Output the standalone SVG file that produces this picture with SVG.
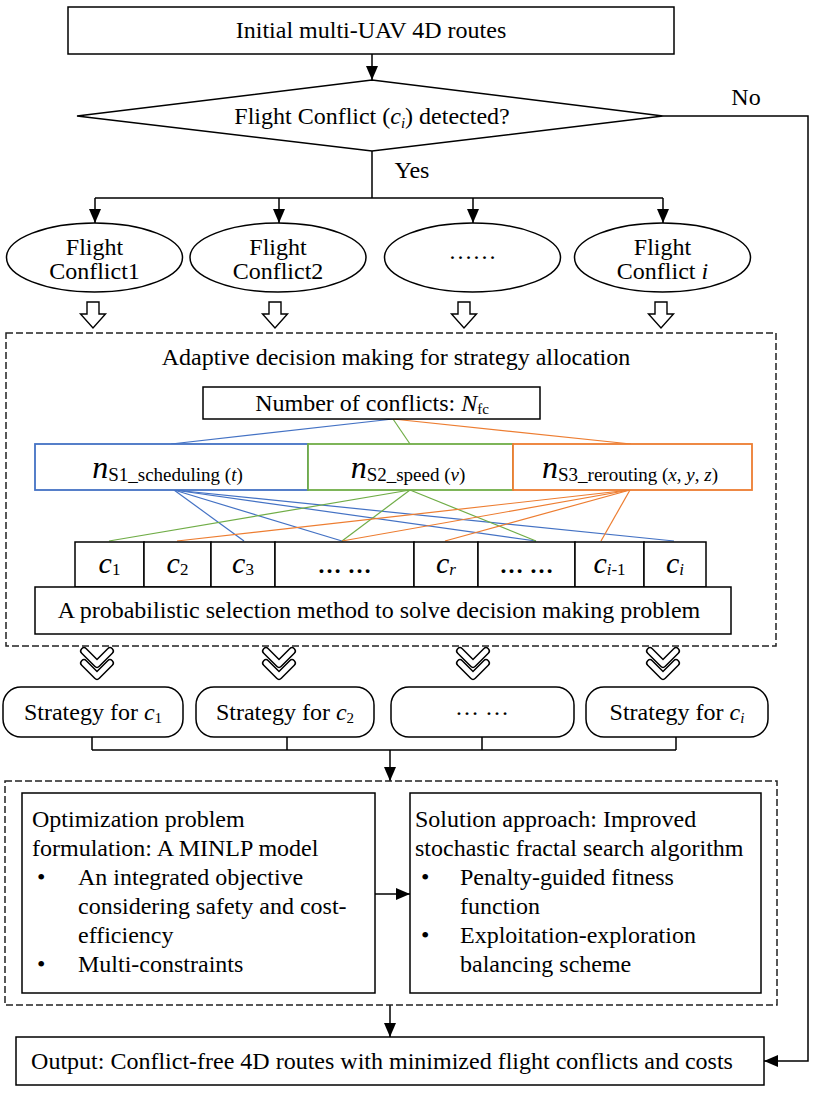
<svg xmlns="http://www.w3.org/2000/svg" width="816" height="1096" viewBox="0 0 816 1096">
<defs>
<style>
.t{font-family:"Liberation Serif","Times New Roman",serif;font-size:24px;fill:#000}
.m{text-anchor:middle}
.box{fill:#fff;stroke:#000;stroke-width:1.5}
.dash{fill:none;stroke:#222;stroke-width:1.5;stroke-dasharray:7 3}
.ln{fill:none;stroke:#000;stroke-width:1.5}
.arr{marker-end:url(#ah)}
.i{font-style:italic}
.blue{stroke:#4472C4}
.green{stroke:#70AD47}
.orange{stroke:#ED7D31}
.fan{fill:none;stroke-width:1.2}
.chevO{fill:none;stroke:#000;stroke-width:8;stroke-linejoin:round;stroke-linecap:round}
.chevI{fill:none;stroke:#fff;stroke-width:5;stroke-linejoin:round;stroke-linecap:round}
</style>
<marker id="ah" markerUnits="userSpaceOnUse" markerWidth="14" markerHeight="12" refX="14" refY="6" orient="auto">
<path d="M0,0 L14,6 L0,12 Z" fill="#000"/>
</marker>
<path id="barrow" d="M-6,0 H6 V12 H12.5 L0,26 L-12.5,12 H-6 Z" fill="#fff" stroke="#000" stroke-width="1.4"/>
<g id="chev">
<path class="chevO" d="M-13,0 L0,13 L13,0"/>
<path class="chevI" d="M-13,0 L0,13 L13,0"/>
<path class="chevO" d="M-13,12 L0,25 L13,12"/>
<path class="chevI" d="M-13,12 L0,25 L13,12"/>
</g>
</defs>
<rect width="816" height="1096" fill="#fff"/>

<g id="connectors">
<line class="ln arr" x1="372" y1="54" x2="372" y2="80"/>
<path class="ln" d="M372,151 V198 M95,198 H663"/>
<line class="ln arr" x1="95" y1="198" x2="95" y2="223"/>
<line class="ln arr" x1="279" y1="198" x2="279" y2="223"/>
<line class="ln arr" x1="473" y1="198" x2="473" y2="223"/>
<line class="ln arr" x1="663" y1="198" x2="663" y2="223"/>
<path class="ln arr" d="M663,116 H808 V1061 H764"/>
<use href="#barrow" x="93" y="302"/>
<use href="#barrow" x="275" y="302"/>
<use href="#barrow" x="464" y="302"/>
<use href="#barrow" x="661" y="302"/>
<line class="fan blue" x1="393" y1="419" x2="171" y2="444"/>
<line class="fan green" x1="393" y1="419" x2="410" y2="444"/>
<line class="fan orange" x1="393" y1="419" x2="631" y2="444"/>
<g class="fan blue">
<line x1="174" y1="490" x2="244" y2="541"/>
<line x1="174" y1="490" x2="342" y2="541"/>
<line x1="174" y1="490" x2="536" y2="541"/>
<line x1="174" y1="490" x2="674" y2="541"/>
</g>
<g class="fan green">
<line x1="410" y1="490" x2="109" y2="541"/>
<line x1="410" y1="490" x2="342" y2="541"/>
<line x1="410" y1="490" x2="536" y2="541"/>
</g>
<g class="fan orange">
<line x1="630" y1="490" x2="177" y2="541"/>
<line x1="630" y1="490" x2="342" y2="541"/>
<line x1="630" y1="490" x2="445" y2="541"/>
<line x1="630" y1="490" x2="601" y2="541"/>
</g>
<use href="#chev" x="97" y="651"/>
<use href="#chev" x="279" y="651"/>
<use href="#chev" x="473" y="651"/>
<use href="#chev" x="663" y="651"/>
<path class="ln" d="M92,737 V750 M287,737 V750 M482,737 V750 M676,737 V750 M92,750 H676"/>
<line class="ln arr" x1="390" y1="750" x2="390" y2="781"/>
<line class="ln arr" x1="375" y1="894" x2="410" y2="894"/>
<line class="ln arr" x1="390" y1="1005" x2="390" y2="1037"/>
</g>

<g id="start">
<rect class="box" x="68" y="7" width="606" height="47"/>
<text class="t m" x="371" y="38">Initial multi-UAV 4D routes</text>
</g>

<g id="decision">
<polygon class="box" points="77,116 372,80 663,116 372,151"/>
<text class="t m" x="372" y="124">Flight Conflict (<tspan class="i">c</tspan><tspan class="i" font-size="15" dy="4">i</tspan><tspan dy="-4">) detected?</tspan></text>
<text class="t m" x="746" y="105">No</text>
<text class="t m" x="412" y="178">Yes</text>
</g>

<g id="conflict1">
<ellipse class="box" cx="94.5" cy="257.5" rx="88" ry="34.5"/>
<text class="t m" x="94.5" y="255">Flight</text>
<text class="t m" x="94.5" y="279">Conflict1</text>
</g>
<g id="conflict2">
<ellipse class="box" cx="278" cy="257.5" rx="88" ry="34.5"/>
<text class="t m" x="278" y="255">Flight</text>
<text class="t m" x="278" y="279">Conflict2</text>
</g>
<g id="conflict3">
<ellipse class="box" cx="472.5" cy="257.5" rx="88" ry="34.5"/>
<text class="t m" x="472.5" y="259">……</text>
</g>
<g id="conflict4">
<ellipse class="box" cx="662.5" cy="257.5" rx="88" ry="34.5"/>
<text class="t m" x="662.5" y="255">Flight</text>
<text class="t m" x="662.5" y="279">Conflict <tspan class="i">i</tspan></text>
</g>

<g id="allocation">
<rect class="dash" x="6" y="333" width="770" height="313"/>
<text class="t m" x="396" y="365">Adaptive decision making for strategy allocation</text>
</g>

<g id="nfc">
<rect class="box" x="203" y="387" width="337" height="32"/>
<text class="t m" x="372" y="411">Number of conflicts: <tspan class="i">N</tspan><tspan font-size="15" dy="3">fc</tspan></text>
</g>

<g id="n-s1">
<rect x="35" y="444" width="273" height="46" fill="#fff" stroke="#4472C4" stroke-width="1.8"/>
<text class="t m" x="167.5" y="478"><tspan class="i" font-size="32">n</tspan><tspan font-size="19" dy="3">S1_scheduling (</tspan><tspan class="i" font-size="19">t</tspan><tspan font-size="19">)</tspan></text>
</g>
<g id="n-s2">
<rect x="308" y="444" width="205" height="46" fill="#fff" stroke="#70AD47" stroke-width="1.8"/>
<text class="t m" x="408" y="478"><tspan class="i" font-size="32">n</tspan><tspan font-size="19" dy="3">S2_speed (</tspan><tspan class="i" font-size="19">v</tspan><tspan font-size="19">)</tspan></text>
</g>
<g id="n-s3">
<rect x="513" y="444" width="239" height="46" fill="#fff" stroke="#ED7D31" stroke-width="1.8"/>
<text class="t m" x="630" y="478"><tspan class="i" font-size="32">n</tspan><tspan font-size="19" dy="3">S3_rerouting (</tspan><tspan class="i" font-size="19">x</tspan><tspan font-size="19">, </tspan><tspan class="i" font-size="19">y</tspan><tspan font-size="19">, </tspan><tspan class="i" font-size="19">z</tspan><tspan font-size="19">)</tspan></text>
</g>

<g id="conflict-list">
<rect class="box" x="75" y="542" width="69" height="45"/>
<rect class="box" x="144" y="542" width="67" height="45"/>
<rect class="box" x="211" y="542" width="64" height="45"/>
<rect class="box" x="275" y="542" width="139" height="45"/>
<rect class="box" x="414" y="542" width="64" height="45"/>
<rect class="box" x="478" y="542" width="97" height="45"/>
<rect class="box" x="575" y="542" width="69" height="45"/>
<rect class="box" x="644" y="542" width="62" height="45"/>
<text class="t m" x="109.5" y="573"><tspan class="i" font-size="30">c</tspan><tspan font-size="17" dy="2">1</tspan></text>
<text class="t m" x="177.5" y="573"><tspan class="i" font-size="30">c</tspan><tspan font-size="17" dy="2">2</tspan></text>
<text class="t m" x="243" y="573"><tspan class="i" font-size="30">c</tspan><tspan font-size="17" dy="2">3</tspan></text>
<text class="t m" x="344.5" y="573" font-weight="bold">… …</text>
<text class="t m" x="446" y="573"><tspan class="i" font-size="30">c</tspan><tspan class="i" font-size="17" dy="2">r</tspan></text>
<text class="t m" x="526.5" y="573" font-weight="bold">… …</text>
<text class="t m" x="609.5" y="573"><tspan class="i" font-size="30">c</tspan><tspan class="i" font-size="17" dy="2">i</tspan><tspan font-size="17">-1</tspan></text>
<text class="t m" x="675" y="573"><tspan class="i" font-size="30">c</tspan><tspan class="i" font-size="17" dy="2">i</tspan></text>
</g>

<g id="probabilistic">
<rect class="box" x="35" y="587" width="696" height="47"/>
<text class="t m" x="379" y="618">A probabilistic selection method to solve decision making problem</text>
</g>

<g id="strategy1">
<rect class="box" x="3" y="687" width="180" height="50" rx="18"/>
<text class="t m" x="93" y="720">Strategy for <tspan class="i">c</tspan><tspan font-size="15" dy="3">1</tspan></text>
</g>
<g id="strategy2">
<rect class="box" x="196" y="687" width="178" height="50" rx="18"/>
<text class="t m" x="285" y="720">Strategy for <tspan class="i">c</tspan><tspan font-size="15" dy="3">2</tspan></text>
</g>
<g id="strategy3">
<rect class="box" x="391" y="687" width="183" height="50" rx="18"/>
<text class="t m" x="482" y="715">… …</text>
</g>
<g id="strategy4">
<rect class="box" x="586" y="687" width="182" height="50" rx="18"/>
<text class="t m" x="677" y="720">Strategy for <tspan class="i">c</tspan><tspan class="i" font-size="15" dy="3">i</tspan></text>
</g>

<g id="optimization-stage">
<rect class="dash" x="5" y="781" width="772" height="224"/>
</g>

<g id="model">
<rect class="box" x="22" y="793" width="353" height="200"/>
<text class="t" x="32" y="827">Optimization problem</text>
<text class="t" x="32" y="856">formulation: A MINLP model</text>
<text class="t" x="37" y="885">•</text>
<text class="t" x="78" y="885">An integrated objective</text>
<text class="t" x="78" y="914">considering safety and cost-</text>
<text class="t" x="78" y="943">efficiency</text>
<text class="t" x="37" y="972">•</text>
<text class="t" x="78" y="972">Multi-constraints</text>
</g>

<g id="solver">
<rect class="box" x="410" y="793" width="351" height="200"/>
<text class="t" x="415" y="827">Solution approach: Improved</text>
<text class="t" x="415" y="856">stochastic fractal search algorithm</text>
<text class="t" x="421" y="885">•</text>
<text class="t" x="460" y="885">Penalty-guided fitness</text>
<text class="t" x="460" y="914">function</text>
<text class="t" x="421" y="943">•</text>
<text class="t" x="460" y="943">Exploitation-exploration</text>
<text class="t" x="460" y="972">balancing scheme</text>
</g>

<g id="output">
<rect class="box" x="16" y="1037" width="748" height="48"/>
<text class="t m" x="382" y="1069">Output: Conflict-free 4D routes with minimized flight conflicts and costs</text>
</g>
</svg>
